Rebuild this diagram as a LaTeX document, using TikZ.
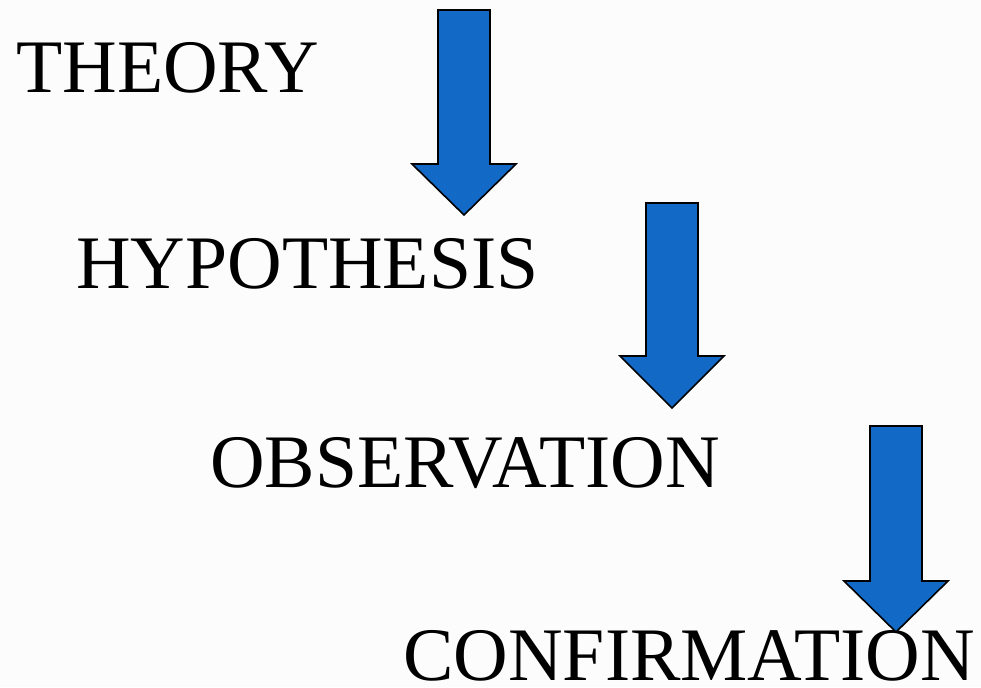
\documentclass[tikz,border=0pt]{standalone}
\usepackage{fontspec}
\setmainfont{Liberation Serif}
\usepackage{xcolor}
\usepackage{tikz}
\definecolor{AzulFlecha}{RGB}{18,106,198}
\definecolor{FondoGris}{RGB}{252,252,252}

\begin{document}
\begin{tikzpicture}[x=0.5pt,y=-0.5pt,
  etapa/.style={anchor=base west,inner sep=0pt,font=\fontsize{37.8}{42}\selectfont},
  bajada/.style={fill=AzulFlecha,draw=black,line width=0.8pt,line join=miter}]
  \fill[FondoGris] (0,0) rectangle (981,687);
  \useasboundingbox (0,0) rectangle (981,687);
  \node[etapa] (teoria) at (16,92) {THEORY};
  \node[etapa] (hipotesis) at (76,288) {HYPOTHESIS};
  \node[etapa] (observacion) at (210,487) {OBSERVATION};
  \node[etapa] (confirmacion) at (403,680) {CONFIRMATION};
  \draw[bajada] (438,10) -- (490,10) -- (490,164) -- (516,164) -- (464,215) -- (412,164) -- (438,164) -- cycle;
  \draw[bajada] (646,203) -- (698,203) -- (698,356) -- (724,356) -- (672,408) -- (620,356) -- (646,356) -- cycle;
  \draw[bajada] (870,426) -- (922,426) -- (922,581) -- (948,581) -- (896,632) -- (844,581) -- (870,581) -- cycle;
\end{tikzpicture}
\end{document}
